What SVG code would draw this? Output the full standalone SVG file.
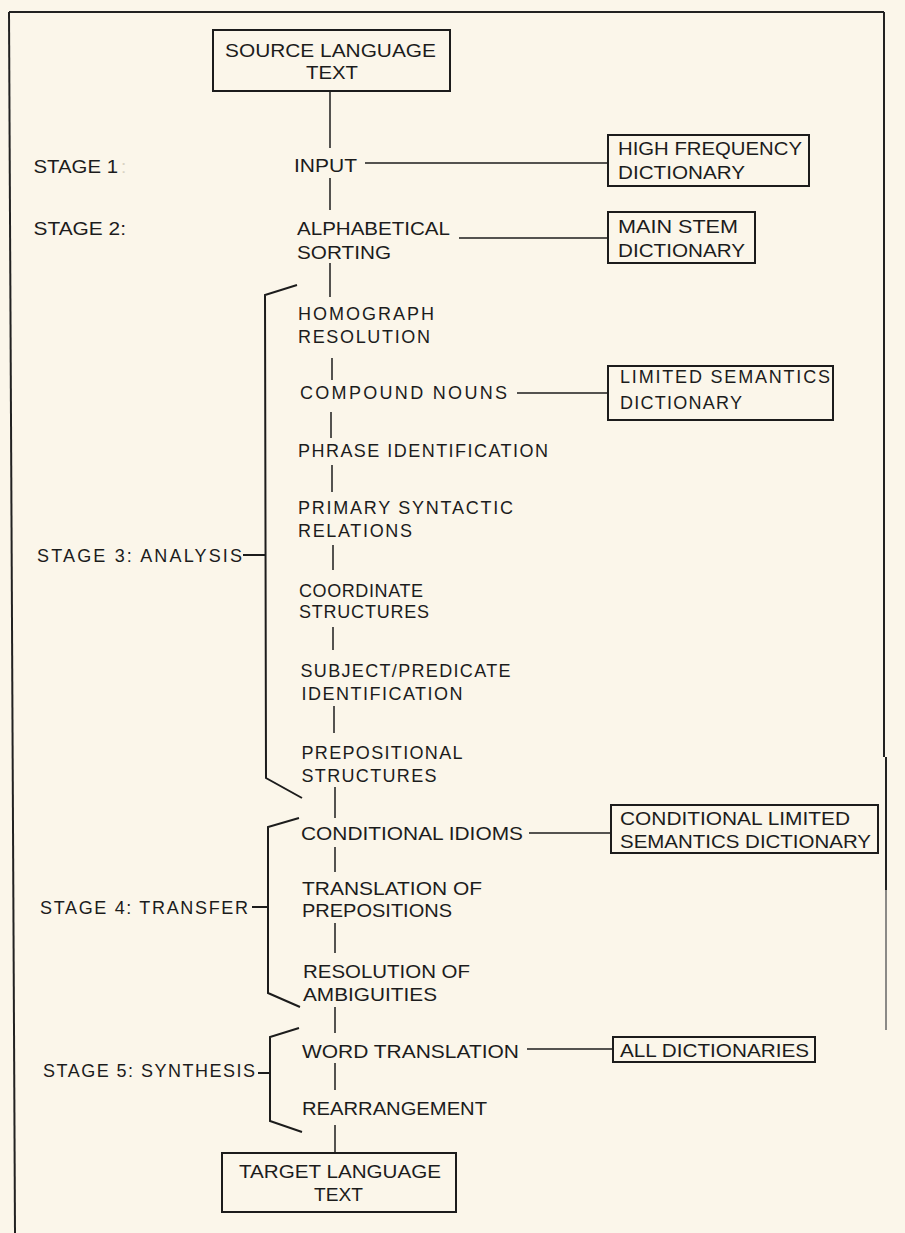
<svg xmlns="http://www.w3.org/2000/svg" width="905" height="1233" viewBox="0 0 905 1233">
<style>
text{font-family:"Liberation Sans",Arial,Helvetica,sans-serif;fill:#1c1c1c}
.c{font-size:19px}
.w{font-size:18px}
.box{fill:none;stroke:#1c1c1c;stroke-width:2}
.ln{fill:none;stroke:#1c1c1c;stroke-width:1.5}
.br{fill:none;stroke:#1c1c1c;stroke-width:2;stroke-linejoin:miter}
.fr{fill:none;stroke:#222;stroke-width:2}
</style>
<rect x="0" y="0" width="905" height="1233" fill="#fbf6ea"/>
<g id="frame">
<line class="fr" x1="9" y1="12" x2="884" y2="12"/>
<line class="fr" x1="9" y1="12" x2="15" y2="1233"/>
<line class="fr" x1="884" y1="12" x2="884" y2="757"/>
<line class="fr" x1="886" y1="757" x2="886" y2="890"/>
<line x1="886" y1="890" x2="886" y2="1030" stroke="#666" stroke-width="1.5"/>
</g>
<g id="connectors">
<line class="ln" x1="330" y1="91" x2="330" y2="148"/>
<line class="ln" x1="330" y1="178" x2="330" y2="210"/>
<line class="ln" x1="330" y1="263" x2="330" y2="297"/>
<line class="ln" x1="332" y1="358" x2="332" y2="380"/>
<line class="ln" x1="331" y1="412" x2="331" y2="438"/>
<line class="ln" x1="332" y1="465" x2="332" y2="492"/>
<line class="ln" x1="333" y1="545" x2="333" y2="570"/>
<line class="ln" x1="333" y1="627" x2="333" y2="650"/>
<line class="ln" x1="334" y1="706" x2="334" y2="733"/>
<line class="ln" x1="335" y1="787" x2="335" y2="818"/>
<line class="ln" x1="335" y1="847" x2="335" y2="872"/>
<line class="ln" x1="335" y1="923" x2="335" y2="953"/>
<line class="ln" x1="335" y1="1007" x2="335" y2="1033"/>
<line class="ln" x1="335" y1="1063" x2="335" y2="1090"/>
<line class="ln" x1="335" y1="1125" x2="335" y2="1153"/>
<line class="ln" x1="365" y1="163" x2="608" y2="163"/>
<line class="ln" x1="459" y1="238" x2="608" y2="238"/>
<line class="ln" x1="517" y1="393" x2="608" y2="393"/>
<line class="ln" x1="529" y1="833" x2="611" y2="833"/>
<line class="ln" x1="527" y1="1049" x2="613" y2="1049"/>
</g>
<g id="source">
<rect class="box" x="213" y="30" width="237" height="61"/>
<text class="c" x="225" y="57" textLength="211" lengthAdjust="spacingAndGlyphs">SOURCE LANGUAGE</text>
<text class="c" x="306" y="79" textLength="52" lengthAdjust="spacingAndGlyphs">TEXT</text>
</g>
<g id="stage1">
<text class="c" x="33.5" y="173" textLength="84.5" lengthAdjust="spacingAndGlyphs">STAGE 1</text>
<text class="c" x="121" y="173" style="fill:#d9d3c4">:</text>
</g>
<g id="input">
<text class="c" x="294" y="172" textLength="63" lengthAdjust="spacingAndGlyphs">INPUT</text>
</g>
<g id="high-frequency">
<rect class="box" x="608" y="135" width="201" height="51"/>
<text class="c" x="618" y="155" textLength="184" lengthAdjust="spacingAndGlyphs">HIGH FREQUENCY</text>
<text class="c" x="618" y="179" textLength="127" lengthAdjust="spacingAndGlyphs">DICTIONARY</text>
</g>
<g id="stage2">
<text class="c" x="33.5" y="235" textLength="92.5" lengthAdjust="spacingAndGlyphs">STAGE 2:</text>
</g>
<g id="alphabetical">
<text class="c" x="297" y="235" textLength="153" lengthAdjust="spacingAndGlyphs">ALPHABETICAL</text>
<text class="c" x="297" y="259" textLength="94" lengthAdjust="spacingAndGlyphs">SORTING</text>
</g>
<g id="main-stem">
<rect class="box" x="608" y="212" width="147" height="51"/>
<text class="c" x="618" y="233" textLength="120" lengthAdjust="spacingAndGlyphs">MAIN STEM</text>
<text class="c" x="618" y="257" textLength="127" lengthAdjust="spacingAndGlyphs">DICTIONARY</text>
</g>
<g id="stage3">
<path class="br" d="M297,285 L265,295 L266,778 L302,798"/>
<line class="br" x1="243" y1="555" x2="266" y2="555"/>
<text class="w" x="37" y="562" textLength="205" lengthAdjust="spacing">STAGE 3: ANALYSIS</text>
</g>
<g id="homograph">
<text class="w" x="298" y="320" textLength="136" lengthAdjust="spacing">HOMOGRAPH</text>
<text class="w" x="298" y="343" textLength="132" lengthAdjust="spacing">RESOLUTION</text>
</g>
<g id="compound">
<text class="w" x="300" y="399" textLength="207" lengthAdjust="spacing">COMPOUND NOUNS</text>
</g>
<g id="limited-semantics">
<rect class="box" x="608" y="366" width="225" height="54"/>
<text class="w" x="620" y="383" textLength="210" lengthAdjust="spacing">LIMITED SEMANTICS</text>
<text class="w" x="620" y="409" textLength="122" lengthAdjust="spacing">DICTIONARY</text>
</g>
<g id="phrase">
<text class="w" x="298" y="457" textLength="250" lengthAdjust="spacing">PHRASE IDENTIFICATION</text>
</g>
<g id="primary">
<text class="w" x="298" y="514" textLength="215" lengthAdjust="spacing">PRIMARY SYNTACTIC</text>
<text class="w" x="298" y="537" textLength="114" lengthAdjust="spacing">RELATIONS</text>
</g>
<g id="coordinate">
<text class="w" x="299" y="597" textLength="124" lengthAdjust="spacing">COORDINATE</text>
<text class="w" x="299" y="618" textLength="130" lengthAdjust="spacing">STRUCTURES</text>
</g>
<g id="subject">
<text class="w" x="300.5" y="677" textLength="210" lengthAdjust="spacing">SUBJECT/PREDICATE</text>
<text class="w" x="301.5" y="700" textLength="161" lengthAdjust="spacing">IDENTIFICATION</text>
</g>
<g id="prepositional">
<text class="w" x="301.5" y="759" textLength="161" lengthAdjust="spacing">PREPOSITIONAL</text>
<text class="w" x="301.5" y="782" textLength="135" lengthAdjust="spacing">STRUCTURES</text>
</g>
<g id="stage4">
<path class="br" d="M299,818 L268,827 L268,993 L300,1007"/>
<line class="br" x1="252" y1="907" x2="268" y2="907"/>
<text class="w" x="40" y="914" textLength="208" lengthAdjust="spacing">STAGE 4: TRANSFER</text>
</g>
<g id="conditional-idioms">
<text class="c" x="301" y="840" textLength="222" lengthAdjust="spacingAndGlyphs">CONDITIONAL IDIOMS</text>
</g>
<g id="conditional-dictionary">
<rect class="box" x="611" y="805" width="267" height="48"/>
<text class="c" x="620" y="825" textLength="230" lengthAdjust="spacingAndGlyphs">CONDITIONAL LIMITED</text>
<text class="c" x="620" y="848" textLength="251" lengthAdjust="spacingAndGlyphs">SEMANTICS DICTIONARY</text>
</g>
<g id="translation-prepositions">
<text class="c" x="302" y="895" textLength="180" lengthAdjust="spacingAndGlyphs">TRANSLATION OF</text>
<text class="c" x="302" y="917" textLength="150" lengthAdjust="spacingAndGlyphs">PREPOSITIONS</text>
</g>
<g id="ambiguities">
<text class="c" x="303" y="978" textLength="167" lengthAdjust="spacingAndGlyphs">RESOLUTION OF</text>
<text class="c" x="303" y="1001" textLength="134" lengthAdjust="spacingAndGlyphs">AMBIGUITIES</text>
</g>
<g id="stage5">
<path class="br" d="M299,1028 L270,1037 L270,1121 L302,1132"/>
<line class="br" x1="258" y1="1073" x2="270" y2="1073"/>
<text class="w" x="43" y="1077" textLength="212" lengthAdjust="spacing">STAGE 5: SYNTHESIS</text>
</g>
<g id="word-translation">
<text class="c" x="302" y="1058" textLength="217" lengthAdjust="spacingAndGlyphs">WORD TRANSLATION</text>
</g>
<g id="all-dictionaries">
<rect class="box" x="613" y="1037" width="202" height="25"/>
<text class="c" x="620" y="1057" textLength="189" lengthAdjust="spacingAndGlyphs">ALL DICTIONARIES</text>
</g>
<g id="rearrangement">
<text class="c" x="302" y="1115" textLength="185" lengthAdjust="spacingAndGlyphs">REARRANGEMENT</text>
</g>
<g id="target">
<rect class="box" x="222" y="1153" width="234" height="59"/>
<text class="c" x="239" y="1178" textLength="202" lengthAdjust="spacingAndGlyphs">TARGET LANGUAGE</text>
<text class="c" x="314" y="1201" textLength="49" lengthAdjust="spacingAndGlyphs">TEXT</text>
</g>
</svg>
